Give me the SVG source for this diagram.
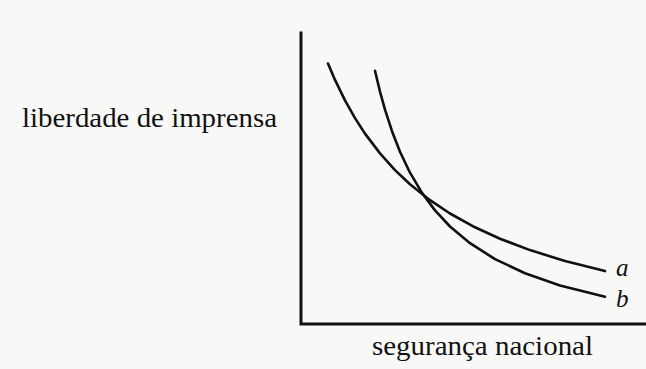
<svg xmlns="http://www.w3.org/2000/svg" width="646" height="369" viewBox="0 0 646 369">
<style>
.ax{stroke:#111;stroke-width:3;fill:none;stroke-linecap:square}
.cv{stroke:#111;stroke-width:2.6;fill:none;stroke-linejoin:round;stroke-linecap:round}
text{fill:#111;font-family:"Liberation Serif","Times New Roman",serif}
.lbl{font-size:28px}
.it{font-size:25px;font-style:italic}
</style>
<rect x="0" y="0" width="646" height="369" fill="#f8f8f6"/>
<g id="axes">
<path class="ax" d="M301,33 V324 H646"/>
</g>
<g id="connectors">
<path id="curve-a" class="cv" d="M328,63.5 L335,79.9 L345,100.4 L355,118.1 L365,133.6 L380,153.4 L395,170.1 L410,184.3 L430,200.2 L450,213.5 L475,227.3 L500,238.7 L530,250.1 L565,261 L605,271.1"/>
<path id="curve-b" class="cv" d="M375,70.7 L380,91.6 L385,109.7 L392,131.2 L400,151.7 L410,172.7 L422,192.9 L435,210.4 L450,226.5 L470,243.2 L495,259.1 L525,273.2 L560,285.4 L605,296.8"/>
</g>
<g id="label-y"><text class="lbl" x="22" y="127" textLength="255" lengthAdjust="spacingAndGlyphs">liberdade de imprensa</text></g>
<g id="label-x"><text class="lbl" x="372" y="355" textLength="221" lengthAdjust="spacingAndGlyphs">segurança nacional</text></g>
<g id="label-a"><text class="it" x="616" y="276">a</text></g>
<g id="label-b"><text class="it" x="616" y="307">b</text></g>
</svg>
